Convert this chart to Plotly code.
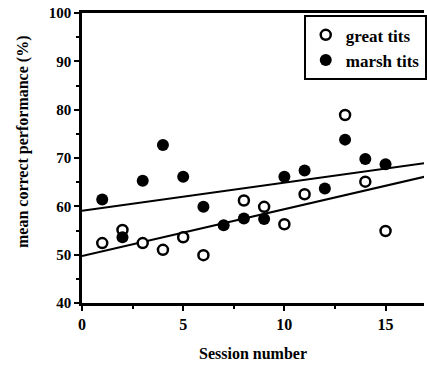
import plotly.graph_objects as go

# Data
great_sessions = [1, 2, 3, 4, 5, 6, 8, 9, 10, 11, 13, 14, 15]
great_perf = [52.4, 55.1, 52.4, 51.0, 53.6, 49.9, 61.2, 59.9, 56.3, 62.5, 78.9, 65.1, 54.9]

marsh_sessions = [1, 2, 3, 4, 5, 6, 7, 8, 9, 10, 11, 12, 13, 14, 15]
marsh_perf = [61.4, 53.6, 65.3, 72.7, 66.1, 59.9, 56.1, 57.5, 57.4, 66.1, 67.4, 63.7, 73.8, 69.8, 68.7]

# Regression lines (intercept, slope)
great_fit = (49.7, 0.97)
marsh_fit = (59.1, 0.58)
fit_x = [0, 17]

x_ticks = [0, 5, 10, 15]
y_ticks = [40, 50, 60, 70, 80, 90, 100]

FONT = "Liberation Serif"
BOLD = dict(family=FONT, color="black", weight="bold")

fig = go.Figure()
for (b0, b1) in (great_fit, marsh_fit):
    fig.add_trace(go.Scatter(
        x=fit_x, y=[b0 + b1 * v for v in fit_x], mode="lines",
        line=dict(color="black", width=2), showlegend=False, hoverinfo="skip"))

fig.add_trace(go.Scatter(
    x=great_sessions, y=great_perf, mode="markers", name="great tits",
    marker=dict(symbol="circle", size=10, color="white",
                line=dict(color="black", width=2.5))))
fig.add_trace(go.Scatter(
    x=marsh_sessions, y=marsh_perf, mode="markers", name="marsh tits",
    marker=dict(symbol="circle", size=12, color="black",
                line=dict(color="black", width=0))))

fig.update_layout(
    width=427, height=369,
    margin=dict(l=82, r=0, t=13, b=66),
    paper_bgcolor="white", plot_bgcolor="white",
    font=dict(family=FONT, color="black", size=16),
    showlegend=True,
    legend=dict(x=1.008, xanchor="right", y=0.992, yanchor="top",
                bordercolor="black", borderwidth=2, bgcolor="white",
                font=dict(BOLD, size=17),
                itemwidth=30, tracegroupgap=0),
    xaxis=dict(range=[0, 16.9], tickvals=x_ticks,
               ticks="outside", ticklen=5,
               tickwidth=2, tickcolor="black", showline=True, linecolor="black",
               linewidth=2.5, mirror=True, showgrid=False, zeroline=False,
               tickfont=dict(BOLD, size=16),
               minor=dict(dtick=2.5, ticks="outside", ticklen=3, tickwidth=2,
                          tickcolor="black", showgrid=False),
               title=dict(text="Session number", font=dict(BOLD, size=16),
                          standoff=16)),
    yaxis=dict(range=[40, 100], tickvals=y_ticks,
               ticks="outside", ticklen=5,
               tickwidth=2, tickcolor="black", showline=True, linecolor="black",
               linewidth=2.5, showgrid=False, zeroline=False,
               tickfont=dict(BOLD, size=15),
               minor=dict(dtick=5, ticks="outside", ticklen=3, tickwidth=2,
                          tickcolor="black", showgrid=False)),
    annotations=[dict(text="mean correct performance (%)", textangle=-90,
                      xref="paper", yref="paper", x=(22.5 - 82) / 345,
                      y=(303 - 142) / 290,
                      xanchor="center", yanchor="middle", showarrow=False,
                      font=dict(BOLD, size=16))],
)

fig.write_html("out.html", config={"displayModeBar": False},
               post_script="document.body.style.margin='0';document.body.style.padding='0';")
